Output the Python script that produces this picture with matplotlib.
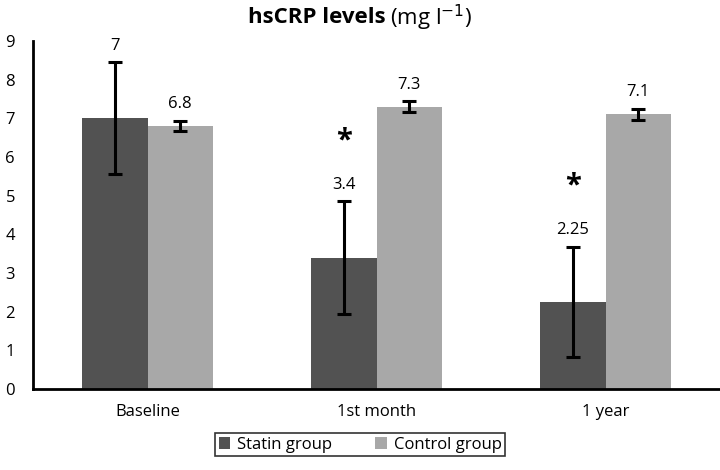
import matplotlib.pyplot as plt
import numpy as np

plt.rcParams['font.family'] = ['Open Sans', 'DejaVu Sans']

categories = ["Baseline", "1st month", "1 year"]
statin = [7, 3.4, 2.25]
statin_err = [1.45, 1.45, 1.43]
control = [6.8, 7.3, 7.1]
control_err = [0.13, 0.14, 0.14]
statin_labels = ["7", "3.4", "2.25"]
control_labels = ["6.8", "7.3", "7.1"]
significant = [False, True, True]

dark = "#525252"
light = "#a8a8a8"

fig = plt.figure(figsize=(7.2, 4.7), dpi=100)
ax = fig.add_axes([0.046, 0.172, 0.954, 0.741])

x = np.arange(len(categories))
w = 0.285
err_kw = dict(ecolor="black", elinewidth=2.2, capsize=5, capthick=2.2)
ax.bar(x - w / 2, statin, w, color=dark, yerr=statin_err, error_kw=err_kw,
       label="Statin group")
ax.bar(x + w / 2, control, w, color=light, yerr=control_err, error_kw=err_kw,
       label="Control group")

# value labels above the error bars
for i in range(len(categories)):
    ax.text(x[i] - w / 2, statin[i] + statin_err[i] + 0.22, statin_labels[i],
            ha="center", va="bottom", fontsize=12)
    ax.text(x[i] + w / 2, control[i] + control_err[i] + 0.22, control_labels[i],
            ha="center", va="bottom", fontsize=12)
    if significant[i]:
        ax.text(x[i] - w / 2, statin[i] + statin_err[i] + 1.2, "*",
                ha="center", va="bottom", fontsize=21, fontweight="bold")

ax.set_xlim(-0.5, 2.5)
ax.set_ylim(0, 9)
ax.set_yticks(range(0, 10))
ax.set_xticks(x)
ax.set_xticklabels(categories)
ax.tick_params(axis="both", length=0, labelsize=12)
ax.tick_params(axis="y", pad=13)
ax.tick_params(axis="x", pad=11)
for s in ["top", "right"]:
    ax.spines[s].set_visible(False)
for s in ["left", "bottom"]:
    ax.spines[s].set_linewidth(2)

fig.text(0.536, 0.962, "hsCRP levels", ha="right", va="center",
         fontsize=16, fontweight="bold")
fig.text(0.542, 0.962, "(mg l$^{-1}$)", ha="left", va="center", fontsize=16)

leg = fig.legend(loc="lower center", bbox_to_anchor=(0.5, 0.012), ncol=2,
                 fontsize=12, frameon=True, fancybox=False, edgecolor="black",
                 handlelength=0.7, handleheight=0.7, handletextpad=0.4,
                 columnspacing=2.6, borderpad=0.2)
leg.get_frame().set_linewidth(1.2)

fig.savefig("out.png", dpi=100)
